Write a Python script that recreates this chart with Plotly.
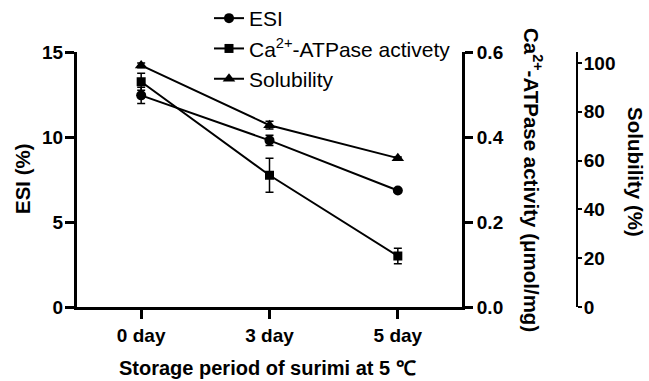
import plotly.graph_objects as go

days = ["0 day", "3 day", "5 day"]
esi = [12.45, 9.8, 6.85]
esi_err = [0.48, 0.3, 0.1]
atpase = [0.53, 0.31, 0.12]
atpase_err = [0.02, 0.04, 0.018]
solubility = [99.0, 74.5, 61.0]
solubility_err = [1.0, 1.6, 0.5]

W, H = 649, 381
ML, MR, MT, MB = 77, 72, 52, 74
PW = W - ML - MR
PH = H - MT - MB
XDOM = 385 / PW

def px_x(x):
    return (x - ML) / PW

def px_y(y):
    return (H - MB - y) / PH

FONT = "Liberation Sans, Arial, sans-serif"
line_style = dict(color="black", width=2)
err_style = dict(type="data", color="black", thickness=1.5, width=4)

fig = go.Figure()
fig.add_trace(go.Scatter(
    x=days, y=esi, name="ESI", legendgroup="a", mode="lines+markers",
    line=line_style, marker=dict(symbol="circle", size=10, color="black"),
    error_y=dict(array=esi_err, **err_style), yaxis="y"))
fig.add_trace(go.Scatter(
    x=days, y=atpase, name="Ca<sup>2+</sup>-ATPase activety", legendgroup="b",
    mode="lines+markers", line=line_style,
    marker=dict(symbol="square", size=9, color="black"),
    error_y=dict(array=atpase_err, **err_style), yaxis="y2"))
fig.add_trace(go.Scatter(
    x=days, y=solubility, name="Solubility", legendgroup="c",
    mode="lines+markers", line=line_style,
    marker=dict(symbol="triangle-up", size=11, color="black"),
    error_y=dict(array=solubility_err, **err_style), yaxis="y3"))

tickfont = dict(family=FONT, size=19, color="black", weight="bold")
axis_common = dict(showline=True, linecolor="black", showgrid=False,
                   zeroline=False, ticks="outside", tickcolor="black",
                   tickfont=tickfont)

fig.update_layout(
    width=W, height=H,
    margin=dict(l=ML, r=MR, t=MT, b=MB, pad=0, autoexpand=False),
    paper_bgcolor="white", plot_bgcolor="white",
    font=dict(family=FONT, color="black"),
    xaxis=dict(domain=[0, XDOM], type="category", range=[-0.5, 2.5],
               linewidth=3, ticklen=9, tickwidth=3, **axis_common),
    yaxis=dict(range=[0, 15], tickvals=[0, 5, 10, 15], linewidth=3,
               ticklen=9, tickwidth=3, ticklabelstandoff=-2, **axis_common),
    yaxis2=dict(range=[0, 0.6], tickvals=[0, 0.2, 0.4, 0.6], tickformat=".1f",
                overlaying="y", side="right", anchor="x", linewidth=3,
                ticklen=8, tickwidth=3, **axis_common),
    yaxis3=dict(range=[0, 104.5], tickvals=[0, 20, 40, 60, 80, 100],
                overlaying="y", side="right", anchor="free", position=1.0,
                linewidth=2, ticklen=4, tickwidth=2, ticklabelstandoff=-2,
                **axis_common),
    legend=dict(x=px_x(209), y=px_y(-2), xanchor="left", yanchor="top",
                bgcolor="rgba(0,0,0,0)", font=dict(family=FONT, size=21),
                tracegroupgap=0, itemwidth=30),
    showlegend=True,
)

title_font = dict(family=FONT, size=20.5, color="black", weight="bold")
fig.add_annotation(text="ESI (%)", xref="paper", yref="paper",
                   x=px_x(22), y=px_y(179), showarrow=False, textangle=-90,
                   font=title_font, xanchor="center", yanchor="middle")
fig.add_annotation(text="Ca<sup>2+</sup>-ATPase activity (μmol/mg)",
                   xref="paper", yref="paper", x=px_x(533), y=px_y(180),
                   showarrow=False, textangle=90, font=title_font,
                   xanchor="center", yanchor="middle")
fig.add_annotation(text="Solubility (%)", xref="paper", yref="paper",
                   x=px_x(636), y=px_y(172), showarrow=False, textangle=90,
                   font=title_font, xanchor="center", yanchor="middle")
fig.add_annotation(text="Storage period of surimi at 5 ℃", xref="paper",
                   yref="paper", x=px_x(267), y=px_y(368), showarrow=False,
                   font=dict(family=FONT, size=20, color="black", weight="bold"),
                   xanchor="center", yanchor="middle")

fig.write_html("out.html")
